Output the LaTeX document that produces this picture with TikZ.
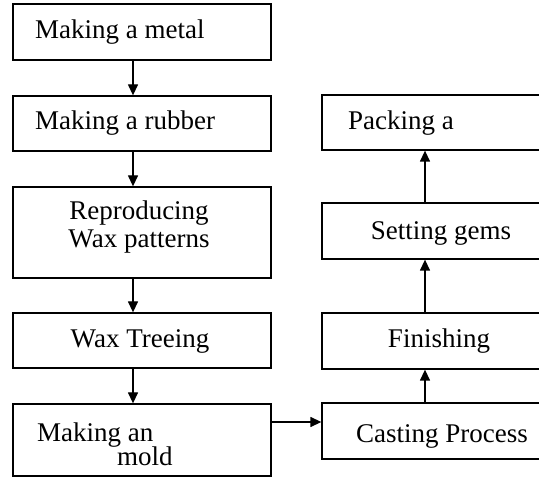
\documentclass[tikz,border=0pt]{standalone}
\usepackage{fontspec}
\setmainfont{Liberation Serif}
\usetikzlibrary{arrows.meta}
\begin{document}
\begin{tikzpicture}[x=1pt,y=-1pt,
  lbox/.style={draw, line width=1.3pt, minimum width=258pt, inner sep=0pt},
  rbox/.style={draw, line width=1.3pt, minimum width=238pt, inner sep=0pt},
  txt/.style={inner sep=0pt, font=\fontsize{27}{28}\selectfont},
  arr/.style={line width=1.3pt, -{Triangle[length=11pt,width=10pt]}}]
\useasboundingbox (0,0) rectangle (539,478);
\clip (0,0) rectangle (539,478);
% left column
\node[lbox, minimum height=56pt] (b1) at (142,32) {};
\node[lbox, minimum height=55pt] (b2) at (142,123.5) {};
\node[lbox, minimum height=91pt] (b3) at (142,232.5) {};
\node[lbox, minimum height=55pt] (b4) at (142,340.5) {};
\node[lbox, minimum height=72pt] (b5) at (142,440) {};
% right column
\node[rbox, minimum height=55pt] (r1) at (441,122.5) {};
\node[rbox, minimum height=56pt] (r2) at (441,231) {};
\node[rbox, minimum height=56pt] (r3) at (441,341) {};
\node[rbox, minimum height=56pt] (r4) at (441,431) {};
% texts
\node[txt, anchor=base west] (t1) at (35,39) {Making a metal};
\node[txt, anchor=base west] (t2) at (35,130) {Making a rubber};
\node[txt, anchor=base] (t3a) at (139,220) {Reproducing};
\node[txt, anchor=base] (t3b) at (139,248) {Wax patterns};
\node[txt, anchor=base] (t4) at (140,348) {Wax Treeing};
\node[txt, anchor=base west] (t5a) at (37,442) {Making an};
\node[txt, anchor=base west] (t5b) at (117,466) {mold};
\node[txt, anchor=base west] (tr1) at (348,130) {Packing a};
\node[txt, anchor=base] (tr2) at (441,240) {Setting gems};
\node[txt, anchor=base] (tr3) at (439,348) {Finishing};
\node[txt, anchor=base] (tr4) at (442,443) {Casting Process};
% connectors
\draw[arr] ([xshift=-9pt]b1.south) -- ([xshift=-9pt]b2.north);
\draw[arr] ([xshift=-9pt]b2.south) -- ([xshift=-9pt]b3.north);
\draw[arr] ([xshift=-9pt]b3.south) -- ([xshift=-9pt]b4.north);
\draw[arr] ([xshift=-9pt]b4.south) -- ([xshift=-9pt]b5.north);
\draw[arr] ([yshift=18pt]b5.east) -- ([yshift=18pt]b5.east -| r4.west);
\draw[arr] ([xshift=-16pt]r4.north) -- ([xshift=-16pt]r3.south);
\draw[arr] ([xshift=-16pt]r3.north) -- ([xshift=-16pt]r2.south);
\draw[arr] ([xshift=-16pt]r2.north) -- ([xshift=-16pt]r1.south);
\end{tikzpicture}
\end{document}
